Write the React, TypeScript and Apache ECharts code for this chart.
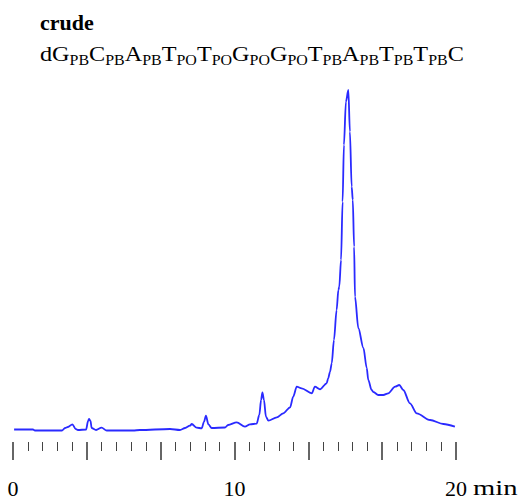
import React, { useEffect, useRef } from 'react';
import * as echarts from 'echarts';

const titleText = 'crude';
const bases = ['dG', 'C', 'A', 'T', 'T', 'G', 'G', 'T', 'A', 'T', 'T', 'C'];
const linkages = ['PB', 'PB', 'PB', 'PO', 'PO', 'PO', 'PO', 'PB', 'PB', 'PB', 'PB'];
const xTickLabels = [0, 10, 20];
const unitLabel = 'min';

const timeMin = [
  0.05, 0.9, 0.99, 2.21, 2.35, 2.48, 2.68, 2.83, 2.93, 3.3, 3.39, 3.43, 3.5, 3.55, 3.75,
  4.0, 4.23, 4.83, 5.42, 5.73, 7.09, 7.54, 7.77, 7.99, 8.07, 8.29, 8.52, 8.62, 8.71, 8.82,
  8.97, 9.57, 9.71, 10.1, 10.47, 10.7, 11.0, 11.12, 11.2, 11.26, 11.33, 11.42, 11.53, 11.91,
  12.2, 12.51, 12.65, 12.81, 13.03, 13.49, 13.63, 13.86, 14.16, 14.23, 14.31, 14.39, 14.49,
  14.61, 14.69, 14.73, 14.81, 14.88, 14.94, 15.03, 15.14, 15.21, 15.29, 15.34, 15.4, 15.44,
  15.59, 15.82, 15.97, 16.04, 16.19, 16.27, 16.49, 16.72, 16.94, 17.25, 17.44, 17.62, 17.92,
  18.23, 18.83, 19.43, 19.95,
];
const signal = [
  12.5, 12.5, 11.5, 11.5, 14, 15, 17.7, 13, 12, 12.5, 21, 23, 21, 14, 12,
  14.3, 11.5, 11.5, 11.5, 12, 13, 12, 14, 16.3, 18, 14.3, 13.7, 20, 26.3, 17.7,
  14, 14.5, 17, 19.7, 15.3, 17.7, 18.3, 27, 42, 49.7, 42, 25.3, 21.3, 24.7,
  28.7, 34.7, 45.3, 55.3, 53.7, 48.7, 55.3, 52.7, 58.7, 63.7, 70, 78.7, 102,
  132, 152, 155.3, 182, 240.3, 297, 340.3, 352, 310.3, 255.3, 242, 195.3, 145.3,
  114, 94, 74, 62, 52, 50, 47, 47, 48.7, 55.3, 57, 52, 38.7,
  28.7, 22, 18, 15.3,
];

export default function App() {
  const ref = useRef<HTMLDivElement>(null);
  useEffect(() => {
    const chart = echarts.init(ref.current!, null, { renderer: 'svg' });
    let seq = '';
    bases.forEach((b, i) => {
      seq += `{m|${b}}`;
      if (linkages[i]) seq += `{s|${linkages[i]}}`;
    });
    const data = timeMin.map((t, i) => [t, signal[i]]);
    chart.setOption({
      animation: false,
      grid: { left: 13, right: 65, top: 82, bottom: 62, containLabel: false, outerBoundsMode: 'none' },
      xAxis: {
        type: 'value',
        min: 0,
        max: 20,
        interval: 20 / 6,
        axisLine: { show: false },
        splitLine: { show: false },
        axisTick: { show: true, length: 18, lineStyle: { color: '#333', width: 1.5 } },
        minorTick: { show: true, splitNumber: 5, length: 9, lineStyle: { color: '#444', width: 1 } },
        axisLabel: {
          margin: 35,
          fontFamily: '"Liberation Serif", "Times New Roman", serif',
          fontSize: 22,
          color: '#000',
          showMinLabel: true,
          showMaxLabel: true,
          formatter: (v: number) => {
            const hit = xTickLabels.find((l) => Math.abs(l - v) < 0.01);
            return hit === undefined ? '' : String(hit);
          },
        },
      },
      yAxis: { type: 'value', min: 0, max: 360, show: false },
      series: [
        {
          type: 'line',
          data,
          showSymbol: false,
          smooth: 0.3,
          smoothMonotone: 'x',
          lineStyle: { color: '#2a2aff', width: 1.8 },
        },
      ],
      graphic: [
        {
          type: 'text',
          x: 40,
          y: 22,
          style: {
            text: titleText,
            font: 'bold 22px "Liberation Serif", "Times New Roman", serif',
            fill: '#000',
            verticalAlign: 'middle',
          },
        },
        {
          type: 'text',
          x: 40,
          y: 55,
          scaleX: 1.1,
          style: {
            text: seq,
            verticalAlign: 'middle',
            fill: '#000',
            rich: {
              m: {
                fontFamily: '"Liberation Serif", "Times New Roman", serif',
                fontSize: 22,
                fill: '#000',
                verticalAlign: 'bottom',
                padding: [0, 0, 3, 0],
              },
              s: {
                fontFamily: '"Liberation Serif", "Times New Roman", serif',
                fontSize: 14.5,
                fill: '#000',
                verticalAlign: 'bottom',
              },
            },
          },
        },
        {
          type: 'text',
          x: 473,
          y: 488,
          scaleX: 1.3,
          style: {
            text: unitLabel,
            font: '22px "Liberation Serif", "Times New Roman", serif',
            fill: '#000',
            verticalAlign: 'middle',
          },
        },
      ],
    });
    return () => chart.dispose();
  }, []);
  return <div ref={ref} style={{ position: 'absolute', left: 0, top: 0, width: 521, height: 504 }} />;
}
